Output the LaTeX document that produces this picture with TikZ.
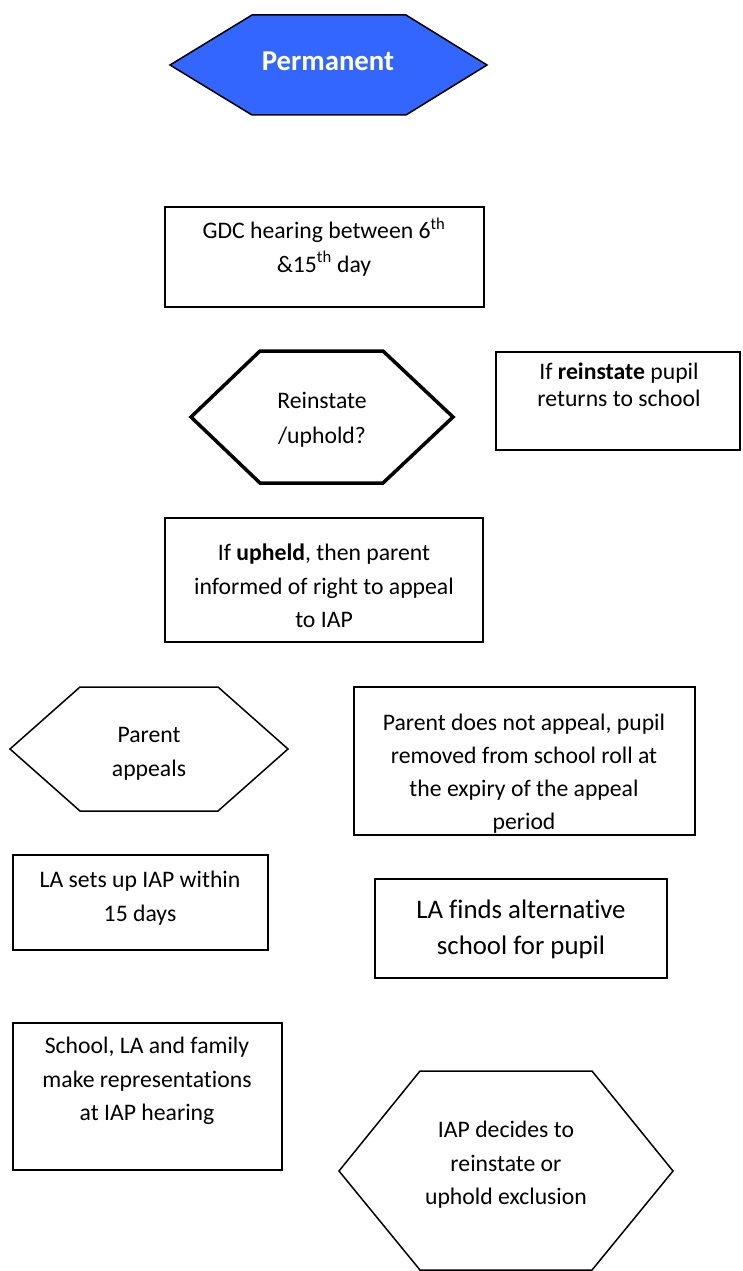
\documentclass[tikz,border=0pt]{standalone}
\usepackage{fontspec}
\setmainfont{Carlito}[Ligatures=NoCommon]
\definecolor{permblue}{RGB}{51,102,255}
\begin{document}
\begin{tikzpicture}[x=1pt,y=-1pt,
  boxline/.style={draw=black,line width=2pt},
  thinhex/.style={draw=black,line width=1.5pt},
  txt/.style={anchor=base,align=center,inner sep=0pt,font=\fontsize{23.7}{33.5}\selectfont},
]
\useasboundingbox (0,0) rectangle (742,1271);
% Permanent
\draw[thinhex,fill=permblue] (170,65) -- (252,15) -- (406,15) -- (487,65) -- (406,115) -- (252,115) -- cycle;
\node[txt,font=\bfseries\fontsize{28.8}{34}\selectfont,text=white] (perm) at (328,71) {Permanent};
% GDC
\draw[boxline] (165,207) rectangle (484,307);
\node[txt] (gdc) at (324,272) {GDC hearing between 6\textsuperscript{th}\\ \&15\textsuperscript{th} day};
% Reinstate / uphold
\draw[draw=black,line width=3.5pt,line join=miter] (191,417) -- (260,351) -- (383,351) -- (453,417) -- (383,483) -- (260,483) -- cycle;
\node[txt,font=\fontsize{23.7}{35}\selectfont] (rq) at (322,443.5) {Reinstate\\/uphold?};
% If reinstate
\draw[boxline] (496,352) rectangle (740,450);
\node[txt,font=\fontsize{23.7}{27}\selectfont] (rein) at (619,406) {If \textbf{reinstate} pupil\\returns to school};
% If upheld
\draw[boxline] (165,518) rectangle (483,642);
\node[txt] (upheld) at (324,627.5) {If \textbf{upheld}, then parent\\informed of right to appeal\\to IAP};
% Parent appeals
\draw[thinhex] (10,749) -- (80,687) -- (218,687) -- (288,749) -- (218,811) -- (80,811) -- cycle;
\node[txt] (pa) at (149,776) {Parent\\appeals};
% Parent does not appeal
\draw[boxline] (354,687) rectangle (695,835);
\node[txt,font=\fontsize{23.7}{33}\selectfont] (pdna) at (524,829.5) {Parent does not appeal, pupil\\removed from school roll at\\the expiry of the appeal\\period};
% LA sets up IAP
\draw[boxline] (13,855) rectangle (268,950);
\node[txt] (lasets) at (140,921) {LA sets up IAP within\\15 days};
% LA finds
\draw[boxline] (375,879) rectangle (667,978);
\node[txt,font=\fontsize{26.8}{36}\selectfont] (lafinds) at (521,954) {LA finds alternative\\school for pupil};
% School LA family
\draw[boxline] (13,1023) rectangle (282,1170);
\node[txt] (school) at (147,1120.5) {School, LA and family\\make representations\\at IAP hearing};
% IAP decides
\draw[thinhex] (339,1171) -- (420,1071) -- (592,1071) -- (673,1171) -- (592,1270) -- (420,1270) -- cycle;
\node[txt] (iap) at (506,1204.5) {IAP decides to\\reinstate or\\uphold exclusion};
\end{tikzpicture}
\end{document}
